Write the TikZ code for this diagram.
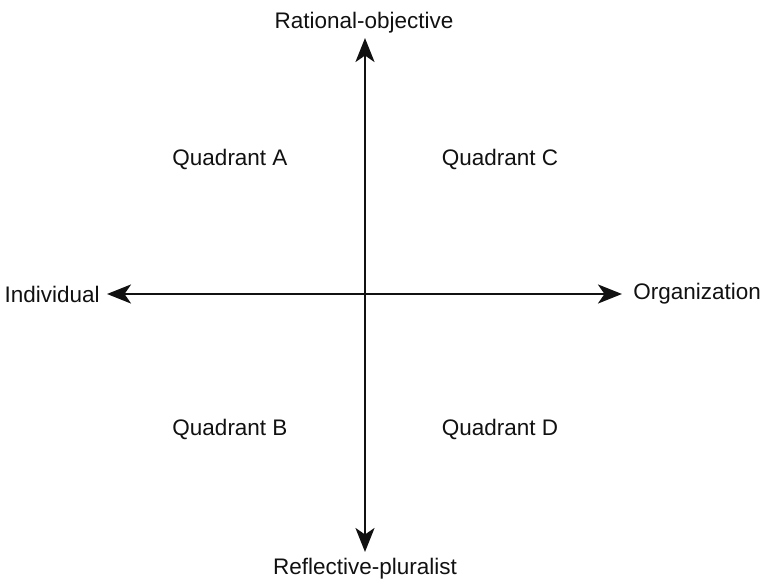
\documentclass[tikz,border=0pt]{standalone}
\usepackage{fontspec}
\setmainfont{Liberation Sans}
\usetikzlibrary{arrows.meta,positioning}
\definecolor{Ink}{HTML}{111111}
\tikzset{
  axis/.style={{Stealth[length=4.8mm,width=3.8mm,inset=1.3mm]}-{Stealth[length=4.8mm,width=3.8mm,inset=1.3mm]},draw=Ink,line width=1.6pt},
  axislabel/.style={font=\fontsize{12.8}{15}\selectfont,text=Ink,inner sep=0pt},
  quad/.style={font=\fontsize{12.8}{15}\selectfont,text=Ink,inner sep=0pt,anchor=base}
}
\begin{document}
\begin{tikzpicture}[x=0.02cm,y=-0.02cm,node distance=.14cm]
        \useasboundingbox (0,0) rectangle (762,579);
        \coordinate (top) at (365,38);
        \coordinate (bottom) at (365,552);
        \coordinate (left) at (107,294);
        \coordinate (right) at (622,294);
        \draw[axis] (bottom) -- (top);
        \draw[axis] (left) -- (right);
        \node[axislabel,anchor=base] (ratobj) at (364,28) {Rational-objective};
        \node[axislabel,anchor=base] (reflplur) at (365,574) {Reflective-pluralist};
        \node[axislabel,left=of left] (indiv) {Individual};
        \node[axislabel,right=.22cm of right] (org) {Organization};
        \node[quad] (qa) at (230,165) {Quadrant A};
        \node[quad] (qc) at (500,165) {Quadrant C};
        \node[quad] (qb) at (230,435) {Quadrant B};
        \node[quad] (qd) at (500,435) {Quadrant D};
      \end{tikzpicture}
\end{document}
